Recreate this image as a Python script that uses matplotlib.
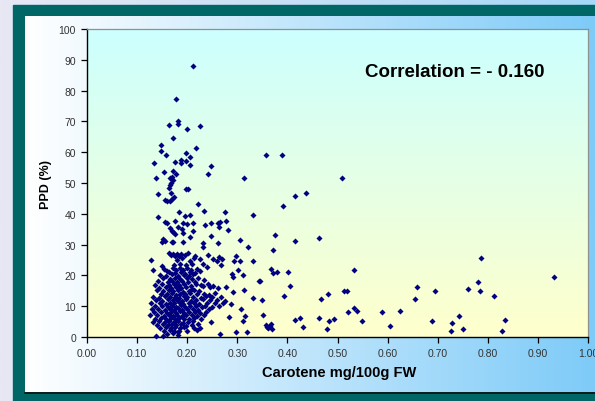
import numpy as np
import matplotlib
matplotlib.use("Agg")
import matplotlib.pyplot as plt
from matplotlib.colors import LinearSegmentedColormap
from matplotlib.patches import Rectangle

plt.rcParams['font.family'] = ['Liberation Sans', 'DejaVu Sans']

# ---------------- data ----------------
x_ticks = [0.0, 0.1, 0.2, 0.3, 0.4, 0.5, 0.6, 0.7, 0.8, 0.9, 1.0]
y_ticks = [0, 10, 20, 30, 40, 50, 60, 70, 80, 90, 100]
x_label = "Carotene mg/100g FW"
y_label = "PPD (%)"
note = "Correlation = - 0.160"

carotene_high = [0.212, 0.178, 0.181, 0.182, 0.164, 0.200, 0.226, 0.171, 0.148, 0.148,
                 0.158, 0.134, 0.175, 0.188, 0.188, 0.198, 0.198, 0.205, 0.218, 0.205,
                 0.248, 0.242, 0.314, 0.154, 0.171, 0.178, 0.138, 0.166, 0.170, 0.172,
                 0.168, 0.165, 0.164, 0.198, 0.201, 0.141, 0.168, 0.174]
ppd_high = [88.0, 77.3, 70.0, 69.2, 68.8, 67.5, 68.6, 64.5, 62.4, 60.5,
            59.0, 56.6, 56.8, 57.5, 56.4, 57.3, 59.8, 58.5, 61.3, 55.7,
            55.5, 52.9, 51.7, 53.6, 53.8, 52.9, 51.7, 51.5, 52.0, 51.0,
            50.0, 49.4, 48.4, 48.2, 48.0, 46.4, 46.9, 45.5]

carotene_mid = [0.155, 0.165, 0.170, 0.160, 0.221, 0.142, 0.184, 0.196, 0.206, 0.234,
                0.275, 0.332, 0.156, 0.159, 0.175, 0.192, 0.199, 0.211, 0.235, 0.248,
                0.262, 0.264, 0.265, 0.277, 0.282, 0.166, 0.169, 0.172, 0.175, 0.182,
                0.189, 0.192, 0.211, 0.206, 0.248, 0.262, 0.305, 0.321, 0.231, 0.232,
                0.152, 0.156, 0.149, 0.169, 0.172, 0.191]
ppd_mid = [44.5, 44.2, 44.8, 44.0, 43.2, 39.1, 40.7, 39.2, 39.6, 41.0,
           40.5, 39.6, 37.2, 37.0, 37.6, 37.0, 36.7, 37.0, 36.4, 37.0,
           37.0, 35.7, 37.2, 37.6, 34.6, 35.4, 34.5, 34.0, 33.4, 35.6,
           35.1, 33.7, 34.3, 32.4, 32.7, 30.5, 31.6, 29.1, 30.4, 29.1,
           31.8, 31.3, 30.9, 30.7, 30.9, 30.9]

carotene_upper = [0.164, 0.168, 0.172, 0.175, 0.180, 0.184, 0.188, 0.195, 0.202, 0.215,
                  0.242, 0.297, 0.128, 0.180, 0.190, 0.205, 0.214, 0.226, 0.252, 0.260,
                  0.264, 0.269, 0.268, 0.293, 0.305, 0.332, 0.149, 0.232, 0.186, 0.198,
                  0.210, 0.174, 0.312, 0.301]
ppd_upper = [27.3, 26.5, 27.0, 26.4, 26.8, 26.3, 26.9, 26.6, 27.2, 26.2,
             26.6, 26.2, 25.1, 25.0, 25.5, 24.8, 25.6, 25.3, 25.3, 24.8,
             25.9, 25.3, 23.4, 24.7, 24.8, 24.8, 23.1, 23.7, 23.8, 23.3,
             23.6, 23.5, 20.1, 21.8]

carotene_core = [
    0.132, 0.154, 0.159, 0.172, 0.178, 0.185, 0.192, 0.200, 0.208, 0.220, 0.239,
    0.163, 0.176, 0.188, 0.196, 0.205, 0.216, 0.226,
    0.146, 0.158, 0.170, 0.182, 0.194, 0.203, 0.212, 0.289,
    0.152, 0.166, 0.175, 0.186, 0.199, 0.210, 0.222, 0.291,
    0.141, 0.161, 0.170, 0.180, 0.190, 0.201, 0.215, 0.234, 0.343,
    0.135, 0.150, 0.163, 0.174, 0.184, 0.193, 0.207, 0.218, 0.228, 0.241,
    0.144, 0.157, 0.168, 0.178, 0.188, 0.197, 0.210, 0.231, 0.245, 0.252, 0.262, 0.277,
    0.139, 0.152, 0.164, 0.172, 0.182, 0.191, 0.203, 0.214, 0.224, 0.292, 0.314,
    0.147, 0.160, 0.170, 0.177, 0.186, 0.196, 0.206, 0.219, 0.234, 0.243, 0.255,
    0.131, 0.143, 0.155, 0.166, 0.175, 0.184, 0.193, 0.200, 0.212, 0.228, 0.238, 0.250, 0.268, 0.332,
    0.138, 0.150, 0.161, 0.171, 0.180, 0.189, 0.198, 0.208, 0.217, 0.232, 0.246, 0.260, 0.276,
    0.127, 0.145, 0.157, 0.166, 0.174, 0.183, 0.192, 0.203, 0.213, 0.224, 0.240, 0.256, 0.271, 0.288,
    0.135, 0.150, 0.162, 0.170, 0.178, 0.187, 0.196, 0.206, 0.218, 0.229, 0.236, 0.250, 0.263,
    0.129, 0.141, 0.155, 0.165, 0.174, 0.181, 0.190, 0.200, 0.211, 0.222, 0.244, 0.307,
    0.133, 0.147, 0.160, 0.168, 0.177, 0.185, 0.194, 0.203, 0.215, 0.226, 0.238,
    0.125, 0.140, 0.153, 0.163, 0.172, 0.180, 0.189, 0.198, 0.209, 0.219, 0.233, 0.284, 0.315,
    0.136, 0.148, 0.158, 0.167, 0.176, 0.184, 0.193, 0.204, 0.214, 0.228,
    0.131, 0.143, 0.155, 0.164, 0.173, 0.182, 0.191, 0.201, 0.212, 0.248, 0.312,
    0.139, 0.151, 0.161, 0.170, 0.178, 0.188, 0.197, 0.210, 0.222,
    0.146, 0.158, 0.167, 0.176, 0.186, 0.194, 0.214, 0.225,
    0.153, 0.165, 0.174, 0.184, 0.199, 0.219, 0.297, 0.319,
    0.160, 0.172, 0.182, 0.265,
    0.138, 0.152, 0.181,
]
ppd_core = [
    21.9, 22.1, 21.5, 22.4, 21.7, 22.3, 21.8, 22.5, 21.6, 22.0, 22.6,
    21.0, 20.8, 21.2, 20.6, 21.1, 20.9, 21.3,
    20.2, 19.8, 20.3, 19.9, 20.1, 19.7, 20.4, 20.5,
    19.0, 18.8, 19.3, 18.9, 19.2, 18.7, 19.1, 19.4,
    18.1, 17.9, 18.3, 17.8, 18.2, 17.7, 18.0, 18.4, 18.2,
    17.0, 17.2, 16.9, 17.3, 16.8, 17.1, 16.7, 17.2, 16.9, 17.1,
    16.0, 16.3, 15.8, 16.1, 15.9, 16.2, 15.7, 16.4, 16.2, 16.6, 15.8, 16.3,
    15.1, 14.8, 15.2, 14.9, 15.3, 14.7, 15.0, 15.2, 14.9, 14.7, 15.3,
    14.0, 13.8, 14.2, 13.7, 14.1, 13.9, 14.3, 13.8, 14.1, 13.6, 14.2,
    13.0, 12.8, 13.2, 12.9, 13.1, 12.7, 13.3, 12.9, 13.1, 12.8, 13.2, 12.9, 13.0, 12.6,
    12.0, 11.8, 12.2, 11.9, 12.1, 11.7, 12.3, 11.8, 12.0, 12.2, 11.9, 12.1, 11.7,
    11.0, 11.2, 10.8, 11.1, 10.9, 11.3, 10.7, 11.0, 11.2, 10.8, 11.1, 10.9, 11.2, 10.8,
    10.0, 10.2, 9.8, 10.1, 9.9, 10.3, 9.7, 10.0, 10.2, 9.8, 10.1, 9.9, 10.2,
    9.0, 9.2, 8.8, 9.1, 8.9, 9.3, 8.7, 9.0, 9.2, 8.8, 9.1, 9.1,
    8.0, 8.2, 7.8, 8.1, 7.9, 8.3, 7.7, 8.0, 8.2, 7.8, 8.1,
    7.0, 7.2, 6.8, 7.1, 6.9, 7.3, 6.7, 7.0, 7.2, 6.8, 7.1, 6.6, 6.7,
    6.0, 6.2, 5.8, 6.1, 5.9, 6.3, 5.7, 6.0, 6.2, 5.8,
    5.0, 5.2, 4.8, 5.1, 4.9, 5.3, 4.7, 5.0, 5.2, 4.9, 5.1,
    4.0, 4.2, 3.8, 4.1, 3.9, 4.3, 3.7, 4.0, 4.2,
    3.0, 3.2, 2.8, 3.1, 2.9, 3.3, 2.8, 3.0,
    2.0, 2.2, 1.8, 2.1, 2.0, 2.4, 1.7, 1.7,
    1.0, 1.2, 1.5, 1.0,
    0.4, 0.4, 0.8,
]

carotene_outer = [0.357, 0.389, 0.508, 0.415, 0.438, 0.391, 0.375, 0.415, 0.464, 0.371,
                  0.368, 0.371, 0.379, 0.401, 0.345, 0.532, 0.405, 0.394, 0.349, 0.482,
                  0.468, 0.512, 0.519, 0.532, 0.538, 0.521, 0.588, 0.625, 0.548, 0.605,
                  0.351, 0.415, 0.425, 0.432, 0.464, 0.484, 0.494, 0.480, 0.357, 0.362,
                  0.368, 0.369, 0.360, 0.366,
                  0.786, 0.933, 0.658, 0.654, 0.695, 0.760, 0.781, 0.785, 0.813, 0.688,
                  0.729, 0.743, 0.727, 0.751, 0.835, 0.828]
ppd_outer = [59.1, 59.1, 51.5, 45.7, 46.9, 42.5, 33.2, 31.1, 32.3, 28.2,
             22.0, 20.7, 21.1, 21.1, 18.1, 21.9, 16.6, 13.4, 12.0, 14.0,
             12.2, 15.0, 14.8, 9.5, 8.5, 8.0, 8.0, 8.5, 5.3, 3.7,
             7.1, 5.4, 6.1, 3.3, 6.3, 5.1, 5.7, 2.5, 4.0, 2.8,
             4.2, 2.6, 3.3, 3.5,
             25.5, 19.6, 16.3, 12.4, 14.8, 15.5, 17.9, 15.0, 13.2, 5.1,
             4.5, 6.9, 2.1, 2.7, 5.5, 1.9]

carotene = carotene_high + carotene_mid + carotene_upper + carotene_core + carotene_outer
ppd = ppd_high + ppd_mid + ppd_upper + ppd_core + ppd_outer

# ---------------- figure ----------------
W, H = 595, 402
fig = plt.figure(figsize=(W / 100, H / 100), dpi=100)

bg = fig.add_axes([0, 0, 1, 1])
bg.axis('off')
grad = np.linspace(0, 1, 256).reshape(1, -1)
slide_cmap = LinearSegmentedColormap.from_list('slide', ['#E8E8F4', '#A6D8F8'])
bg.imshow(grad, cmap=slide_cmap, extent=[0, W, H, 0], aspect='auto')
bg.add_patch(Rectangle((13, 6), W - 13, H - 6, color='#006666', zorder=2))
panel_cmap = LinearSegmentedColormap.from_list('panel', ['#FFFFFF', '#7ECBF8'])
bg.imshow(grad, cmap=panel_cmap, extent=[25, W, 393, 17], aspect='auto', zorder=3)
bg.plot([25, W], [393.5, 393.5], color='#101010', lw=1.2, zorder=4)
bg.set_xlim(0, W)
bg.set_ylim(H, 0)

L, R, T, B = 87, 588, 30, 338
ax = fig.add_axes([L / W, (H - B) / H, (R - L) / W, (B - T) / H])
vgrad = np.linspace(0, 1, 256).reshape(-1, 1)
plot_cmap = LinearSegmentedColormap.from_list('plot', ['#FFFFCC', '#CCFFFF'])
ax.imshow(vgrad, cmap=plot_cmap, extent=[0, 1, 0, 1], transform=ax.transAxes,
          aspect='auto', origin='lower', zorder=0)

ax.scatter(carotene, ppd, marker='D', s=9.5, color='#000080', linewidths=0,
           zorder=3, clip_on=False)

ax.set_xlim(0, 1)
ax.set_ylim(0, 100)
ax.set_xticks(x_ticks)
ax.set_xticklabels([f"{v:.2f}" for v in x_ticks])
ax.set_yticks(y_ticks)
ax.set_yticklabels([str(v) for v in y_ticks])
ax.tick_params(direction='out', length=4, width=0.9, labelsize=7.5,
               labelcolor='#333333', color='#000000', pad=4)
for s in ['left', 'bottom']:
    ax.spines[s].set_color('black')
    ax.spines[s].set_linewidth(1.0)
for s in ['top', 'right']:
    ax.spines[s].set_color('#909090')
    ax.spines[s].set_linewidth(0.9)

ax.text(0.734, 86.3, note, ha='center', va='center', fontsize=13.5,
        fontweight='bold', color='#000000')

fig.text(46 / W, 1 - 185 / H, y_label, rotation=90, ha='center', va='center',
         fontsize=9, fontweight='bold', color='#000000')
fig.text(339 / W, 1 - 373 / H, x_label, ha='center', va='center',
         fontsize=10.5, fontweight='bold', color='#000000')

fig.savefig('out.png', dpi=100)
